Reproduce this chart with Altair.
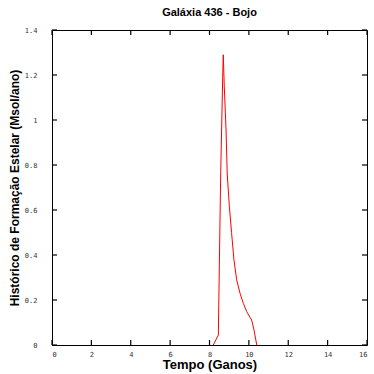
import altair as alt
import pandas as pd

tempo = [8.19, 8.45, 8.50, 8.57, 8.62, 8.67, 8.70, 8.75, 8.84, 8.90, 9.01, 9.12,
         9.24, 9.38, 9.55, 9.72, 9.89, 10.14, 10.26, 10.40]
sfr = [0.0, 0.044, 0.356, 0.77, 0.978, 1.19, 1.29, 1.15, 0.956, 0.76, 0.615, 0.50,
       0.38, 0.29, 0.23, 0.185, 0.148, 0.111, 0.067, 0.0]
x_ticks = [0, 2, 4, 6, 8, 10, 12, 14, 16]
y_ticks = [0, 0.2, 0.4, 0.6, 0.8, 1.0, 1.2, 1.4]

W = 315
H = 315
TL = 5  # inward tick length in px

df = pd.DataFrame({"t": tempo, "v": sfr})
dfx = pd.DataFrame({"t": x_ticks})
dfy = pd.DataFrame({"v": y_ticks})

tick_font = "DejaVu Sans Mono"
xs = alt.Scale(domain=[0, 16], nice=False, zero=False)
ys = alt.Scale(domain=[0, 1.4], nice=False)

x_axis = alt.Axis(
    orient="bottom", values=x_ticks, grid=False, domain=False, ticks=False,
    labelOverlap=False, labelPadding=5, labelFont=tick_font, labelFontSize=7,
    labelColor="#333",
    title="Tempo (Ganos)", titleFont="Liberation Sans", titleFontSize=13,
    titleFontWeight="bold", titlePadding=1, titleColor="black")
y_axis = alt.Axis(
    orient="left", values=y_ticks, grid=False, domain=False, ticks=False,
    labelOverlap=False, labelPadding=15, labelFont=tick_font, labelFontSize=7,
    labelColor="#333", labelExpr="format(datum.value, '~g')",
    title="Histórico de Formação Estelar (Msol/ano)",
    titleFont="Liberation Sans", titleFontSize=12, titleFontWeight="bold",
    titlePadding=3, titleColor="black")

main = alt.Chart(df).mark_line(color="#ff0000", strokeWidth=1, interpolate="linear").encode(
    x=alt.X("t:Q", scale=xs, axis=x_axis),
    y=alt.Y("v:Q", scale=ys, axis=y_axis),
)

tick_style = dict(color="black", strokeWidth=1.2)
xb = alt.Chart(dfx).mark_rule(**tick_style).encode(
    x=alt.X("t:Q", scale=xs, axis=x_axis), y=alt.value(H), y2=alt.value(H - TL))
xt = alt.Chart(dfx).mark_rule(**tick_style).encode(
    x=alt.X("t:Q", scale=xs, axis=x_axis), y=alt.value(0), y2=alt.value(TL))
yl = alt.Chart(dfy).mark_rule(**tick_style).encode(
    y=alt.Y("v:Q", scale=ys, axis=y_axis), x=alt.value(0), x2=alt.value(TL))
yr = alt.Chart(dfy).mark_rule(**tick_style).encode(
    y=alt.Y("v:Q", scale=ys, axis=y_axis), x=alt.value(W), x2=alt.value(W - TL))

chart = alt.layer(xb, xt, yl, yr, main).properties(
    width=W, height=H,
    title=alt.TitleParams("Galáxia 436 - Bojo", font="Liberation Sans", fontSize=11,
                          fontWeight="bold", color="black", offset=8),
    autosize=alt.AutoSizeParams(type="none"),
    padding={"left": 52, "top": 30, "right": 7, "bottom": 29},
    background="white",
).configure_view(stroke="black", strokeWidth=1)

chart.save("out.html", embed_options={"renderer": "svg", "actions": False})
